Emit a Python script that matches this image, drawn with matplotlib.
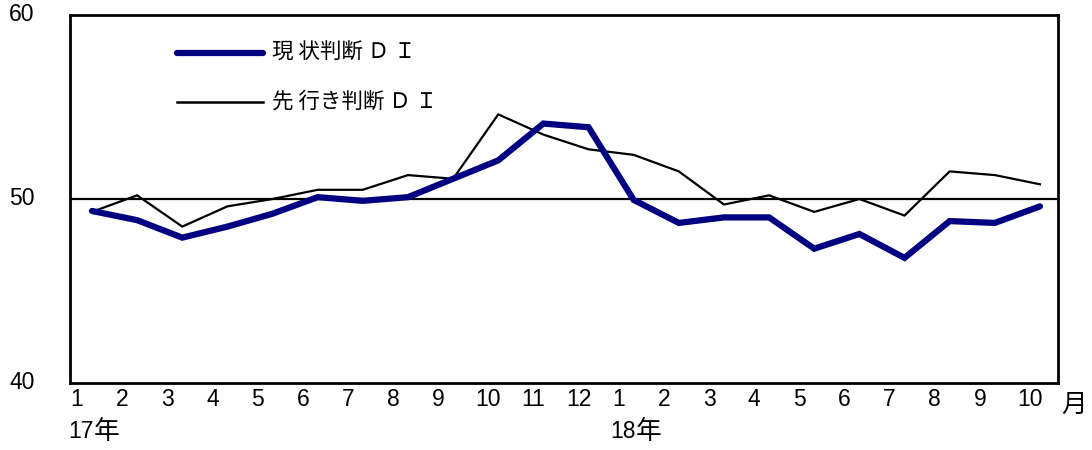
import matplotlib
matplotlib.use("Agg")
import matplotlib.pyplot as plt
from matplotlib.lines import Line2D

plt.rcParams['font.family'] = ['Liberation Sans', 'Noto Sans CJK JP']

# Monthly labels, Jan 2017 - Oct 2018
months = ["1", "2", "3", "4", "5", "6", "7", "8", "9", "10", "11", "12",
          "1", "2", "3", "4", "5", "6", "7", "8", "9", "10"]

# 現状判断DI
current_di = [49.35, 48.85, 47.9, 48.5, 49.2, 50.1, 49.9, 50.1, 51.1, 52.1, 54.1, 53.9,
              49.95, 48.7, 49.0, 49.0, 47.3, 48.1, 46.8, 48.8, 48.7, 49.6]
# 先行き判断DI
outlook_di = [49.3, 50.2, 48.5, 49.6, 50.0, 50.5, 50.5, 51.3, 51.1, 54.6, 53.5, 52.7,
              52.4, 51.5, 49.7, 50.2, 49.3, 50.0, 49.1, 51.5, 51.3, 50.8]

year_numbers = ["17", "18"]
year_positions = [0, 12]
y_ticks = [40, 50, 60]

W, H = 1092, 450
fig = plt.figure(figsize=(W / 100, H / 100), dpi=100)
ax = fig.add_axes([70 / W, 1 - 383 / H, (1058 - 70) / W, (383 - 15) / H])

x = list(range(len(months)))
ax.axhline(50, color="black", lw=1.6, zorder=1)
ax.plot(x, outlook_di, color="black", lw=1.6, zorder=2)
ax.plot(x, current_di, color="#000080", lw=4.5, solid_capstyle="round",
        solid_joinstyle="miter", zorder=3)

ax.set_xlim(-0.487, 21.40)
ax.set_ylim(40, 60)

for s in ax.spines.values():
    s.set_linewidth(2.0)
    s.set_color("black")

ax.set_xticks([])
ax.set_yticks([])

FS = 16.5
CJK = 18.5

# y-axis labels
for v in y_ticks:
    ax.text(-1.55, v, str(v), ha="center", va="center", fontsize=FS, clip_on=False)

# month labels, set slightly left of each point
for i, m in enumerate(months):
    off = -0.33 if len(m) == 1 else -0.22
    ax.text(i + off, 39.08, m, ha="center", va="center", fontsize=FS, clip_on=False)

ax.text(21.75, 38.8, "月", ha="center", va="center", fontsize=CJK,
        family=["Noto Sans CJK JP"], clip_on=False)

# year labels: number followed by 年
for num, p in zip(year_numbers, year_positions):
    t = ax.text(p - 0.52, 37.34, num, ha="left", va="center", fontsize=FS, clip_on=False)
    ax.annotate("年", xycoords=t, xy=(1, 0.5), xytext=(0, 0), textcoords="offset points",
                ha="left", va="center", fontsize=CJK, family=["Noto Sans CJK JP"],
                annotation_clip=False)

# legend drawn by hand
def fx(px):
    return (px - 70) / (1058 - 70)

def fy(py):
    return 1 - (py - 15) / (383 - 15)

ax.add_line(Line2D([fx(177), fx(263)], [fy(53), fy(53)], transform=ax.transAxes,
                   color="#000080", lw=4.5, solid_capstyle="round"))
ax.text(fx(272), fy(53), "現 状判断 Ｄ Ｉ", transform=ax.transAxes, ha="left", va="center",
        fontsize=15.5, family=["Noto Sans CJK JP"])
ax.add_line(Line2D([fx(177), fx(263)], [fy(102), fy(102)], transform=ax.transAxes,
                   color="black", lw=1.8))
ax.text(fx(272), fy(102), "先 行き判断 Ｄ Ｉ", transform=ax.transAxes, ha="left", va="center",
        fontsize=15.5, family=["Noto Sans CJK JP"])

fig.savefig("out.png", dpi=100)
